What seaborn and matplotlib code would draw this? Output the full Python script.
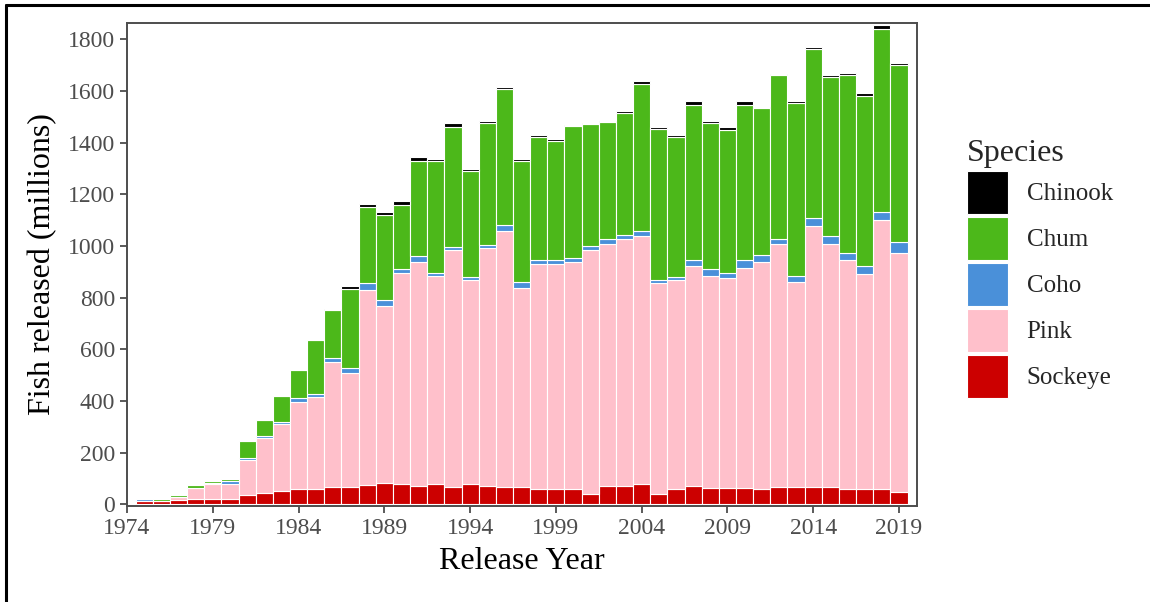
import numpy as np
import pandas as pd
import matplotlib.pyplot as plt
from matplotlib.lines import Line2D
import seaborn as sns

sns.set_theme(style='ticks')
plt.rcParams['font.family'] = ['Liberation Serif', 'DejaVu Serif']

years = list(range(1975, 2020))

sockeye = [12, 12, 19, 20, 20, 20, 35, 44, 51, 59, 58, 67, 67, 75, 84, 81, 73, 81, 66, 81, 73, 66, 66,
           58, 58, 58, 42, 73, 73, 81, 42, 58, 73, 64, 64, 64, 58, 67, 67, 67, 67, 58, 58, 58, 49]
pink = [2, 2, 9, 45, 61, 61, 138, 214, 261, 339, 357, 484, 441, 756, 683, 816, 864, 802, 917, 786, 919,
        994, 772, 871, 871, 879, 941, 933, 956, 957, 813, 809, 848, 819, 814, 851, 880, 942, 794, 1010,
        942, 886, 833, 1041, 925]
coho = [6, 1, 0, 0, 1, 10, 8, 8, 8, 13, 13, 14, 19, 27, 23, 15, 23, 14, 13, 13, 13, 22, 23, 15, 15, 17,
        17, 22, 14, 19, 13, 15, 23, 30, 19, 30, 28, 19, 22, 31, 30, 30, 31, 32, 41]
chum = [0, 5, 9, 9, 9, 8, 64, 62, 100, 109, 208, 186, 305, 294, 331, 248, 370, 433, 465, 411, 472, 527,
        469, 479, 463, 509, 471, 451, 473, 570, 586, 541, 601, 564, 551, 601, 567, 633, 672, 653, 616,
        688, 657, 707, 685]
chinook = [0, 0, 0, 0, 0, 0, 0, 0, 0, 0, 0, 6, 13, 10, 9, 15, 15, 6, 14, 6, 6, 6, 6, 6, 6, 6, 5, 5, 5,
           12, 8, 6, 15, 8, 14, 15, 6, 6, 6, 10, 8, 9, 15, 19, 9]

species = ['Chinook', 'Chum', 'Coho', 'Pink', 'Sockeye']
colors = ['#000000', '#4CB81A', '#4A90D9', '#FFC0CB', '#CC0000']

df = pd.DataFrame({'Chinook': chinook, 'Chum': chum, 'Coho': coho, 'Pink': pink, 'Sockeye': sockeye},
                  index=years)
long = df.reset_index(names='year').melt(id_vars='year', var_name='Species', value_name='fish')

fig = plt.figure(figsize=(11.5, 6.02), dpi=100)
ax = fig.add_axes([127 / 1150, 96 / 602, 790 / 1150, 483 / 602])

sns.histplot(data=long, x='year', weights='fish', hue='Species', hue_order=species,
             palette=colors, multiple='stack', discrete=True, shrink=1.0, alpha=1,
             edgecolor='white', linewidth=0.8, ax=ax)

grey = '#4D4D4D'
ax.set_xlim(1974, 2020.05)
ax.set_ylim(-6, 1863)
ax.set_xticks(np.arange(1974, 2020, 5))
ax.set_yticks(np.arange(0, 1801, 200))
ax.tick_params(axis='both', colors=grey, labelcolor=grey, labelsize=17, length=5, width=1.3)
for s in ax.spines.values():
    s.set_visible(True)
    s.set_color(grey)
    s.set_linewidth(1.4)
ax.set_xlabel('Release Year', fontsize=23, color='black', labelpad=6)
ax.set_ylabel('Fish released (millions)', fontsize=23, color='black', labelpad=8)

sns.move_legend(ax, loc='upper left', bbox_to_anchor=(954 / 1150, 1 - 126 / 602),
                bbox_transform=fig.transFigure, frameon=False, title='Species',
                fontsize=18, title_fontsize=23, handlelength=1.65, handleheight=2.27,
                labelspacing=0.12, handletextpad=0.75, borderpad=0, alignment='left')

# outer frame (top and left edges)
fig.add_artist(Line2D([6 / 1150, 6 / 1150], [0, 1 - 5 / 602], color='black', lw=2.2,
                      transform=fig.transFigure))
fig.add_artist(Line2D([6 / 1150, 1], [1 - 5 / 602, 1 - 5 / 602], color='black', lw=2.2,
                      transform=fig.transFigure))

fig.savefig('out.png', dpi=100)
